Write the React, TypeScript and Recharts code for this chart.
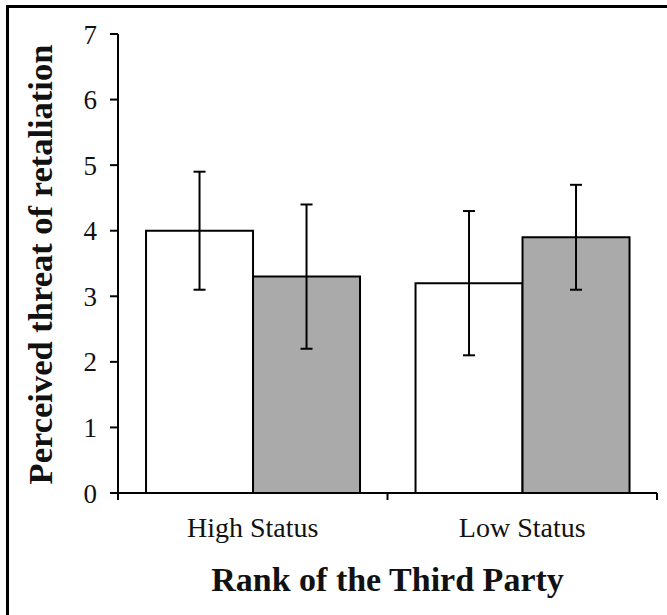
import React from "react"
import { BarChart, Bar, XAxis, YAxis, ErrorBar } from "recharts"

const categories = ["High Status", "Low Status"]
const whiteMeans = [4.0, 3.2]
const whiteErrors = [0.9, 1.1]
const greyMeans = [3.3, 3.9]
const greyErrors = [1.1, 0.8]
const yTicks = [0, 1, 2, 3, 4, 5, 6, 7]

const data = categories.map((name, i) => ({
  name,
  white: whiteMeans[i],
  whiteErr: whiteErrors[i],
  grey: greyMeans[i],
  greyErr: greyErrors[i],
}))

const W = 667
const H = 615
const margin = { top: 34, right: 10, bottom: 62, left: 0 }
const yAxisWidth = 118
const xAxisHeight = 60
const plotWidth = W - margin.left - margin.right - yAxisWidth
const band = plotWidth / categories.length

const serif = "'Liberation Serif', 'Times New Roman', Times, serif"

const CategoryTick = ({ x, y, payload, index }: any) => {
  const half = band / 2
  return (
    <g>
      <line x1={x - half} x2={x - half} y1={y} y2={y + 7} stroke="#000" strokeWidth={2} />
      {index === categories.length - 1 && (
        <line x1={x + half} x2={x + half} y1={y} y2={y + 7} stroke="#000" strokeWidth={2} />
      )}
      <text x={x} y={y + 44} textAnchor="middle" fontFamily={serif} fontSize={28} fill="#111">
        {payload.value}
      </text>
    </g>
  )
}

const YTitle = ({ viewBox }: any) => {
  const cx = 40
  const cy = viewBox.y + viewBox.height / 2 + 1
  return (
    <text
      x={cx}
      y={cy}
      transform={`rotate(-90 ${cx} ${cy})`}
      textAnchor="middle"
      dominantBaseline="central"
      fontFamily={serif}
      fontWeight="bold"
      fontSize={34.5}
      fill="#111"
    >
      Perceived threat of retaliation
    </text>
  )
}

const XTitle = ({ viewBox }: any) => {
  const cx = viewBox.x + viewBox.width / 2
  return (
    <text
      x={cx}
      y={viewBox.y + 98}
      textAnchor="middle"
      fontFamily={serif}
      fontWeight="bold"
      fontSize={34}
      fill="#111"
    >
      Rank of the Third Party
    </text>
  )
}

export default function App() {
  return (
    <div style={{ position: "absolute", left: 0, top: 0, width: W, height: H, background: "#fff" }}>
      <div
        style={{
          position: "absolute",
          left: 6,
          top: 5,
          width: W,
          height: H,
          borderTop: "3px solid #000",
          borderLeft: "3px solid #000",
        }}
      />
      <BarChart
        width={W}
        height={H}
        data={data}
        margin={margin}
        barCategoryGap="10.4%"
        barGap={0}
        style={{ position: "absolute", left: 0, top: 0 }}
      >
        <XAxis
          dataKey="name"
          height={xAxisHeight}
          axisLine={{ stroke: "#000", strokeWidth: 2 }}
          tickLine={false}
          tickSize={0}
          tickMargin={0}
          tick={<CategoryTick />}
          interval={0}
          label={<XTitle />}
        />
        <YAxis
          width={yAxisWidth}
          domain={[0, 7]}
          ticks={yTicks}
          interval={0}
          axisLine={{ stroke: "#000", strokeWidth: 2 }}
          tickLine={{ stroke: "#000", strokeWidth: 2 }}
          tickSize={8}
          tickMargin={13}
          tick={{ fontFamily: serif, fontSize: 27, fill: "#111" }}
          label={<YTitle />}
        />
        <Bar dataKey="white" fill="#ffffff" stroke="#000" strokeWidth={2} isAnimationActive={false}>
          <ErrorBar dataKey="whiteErr" width={6} stroke="#000" strokeWidth={2} direction="y" />
        </Bar>
        <Bar dataKey="grey" fill="#aaaaaa" stroke="#000" strokeWidth={2} isAnimationActive={false}>
          <ErrorBar dataKey="greyErr" width={6} stroke="#000" strokeWidth={2} direction="y" />
        </Bar>
      </BarChart>
    </div>
  )
}
